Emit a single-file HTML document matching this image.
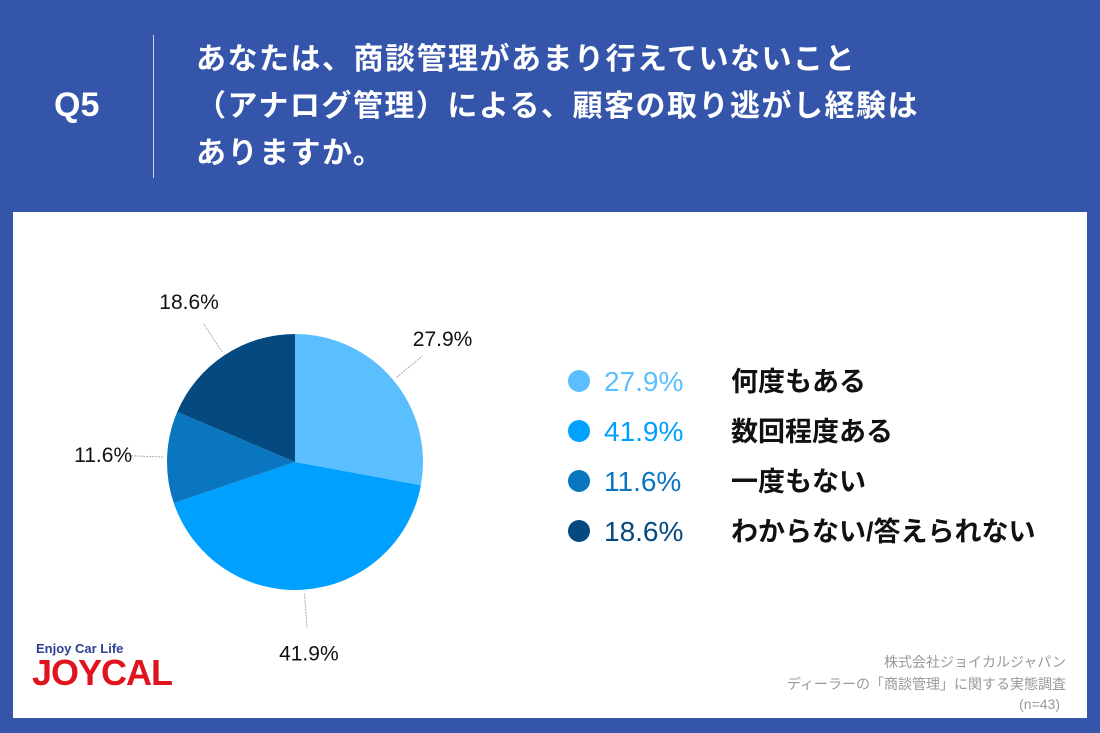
<!DOCTYPE html>
<html><head><meta charset="utf-8"><style>
body{margin:0;width:1100px;height:733px;background:#3455a9;position:relative;overflow:hidden;font-family:"Liberation Sans","Noto Sans CJK JP",sans-serif}
.abs{position:absolute}
#q{left:54px;top:86px;color:#fff;font-size:34px;font-weight:bold}
#vl{left:153px;top:35px;width:1px;height:143px;background:#c8d2ec}
#title{left:196px;top:36px;color:#fff;font-size:30px;font-weight:bold;line-height:47px;letter-spacing:1.5px}
#panel{left:13px;top:212px;width:1074px;height:506px;background:#fff}
.src{right:34px;color:#999;font-size:14px;text-align:right}
</style></head><body>
<div id="q" class="abs">Q5</div>
<div id="vl" class="abs"></div>
<div id="title" class="abs">あなたは、商談管理があまり行えていないこと<br>（アナログ管理）による、顧客の取り逃がし経験は<br>ありますか。</div>
<div id="panel" class="abs"></div>
<svg class="abs" style="left:0;top:0" width="1100" height="733" id="chart"></svg>
<div class="abs" style="left:36px;top:641px;font:bold 13px 'Liberation Sans',sans-serif;color:#2d3f91">Enjoy Car Life</div>
<div class="abs" style="left:32px;top:652px;font:900 36px 'Liberation Sans',sans-serif;color:#e0141e;letter-spacing:-1px">JOYCAL</div>
<div class="abs src" style="top:652px">株式会社ジョイカルジャパン</div>
<div class="abs src" style="top:674px">ディーラーの「商談管理」に関する実態調査</div>
<div class="abs src" style="top:696px;right:40px">(n=43)</div>
<script>
const categories=["何度もある","数回程度ある","一度もない","わからない/答えられない"];
const values=[27.9,41.9,11.6,18.6];
const labels=["27.9%","41.9%","11.6%","18.6%"];
const colors=["#5bbfff","#00a0ff","#0a76c0","#044a80"];
const NS="http://www.w3.org/2000/svg";
const svg=document.getElementById('chart');
const cx=295,cy=462,r=128;
const total=values.reduce((a,b)=>a+b,0);
function pt(a,rr){return [cx+rr*Math.sin(a),cy-rr*Math.cos(a)];}
let acc=0;
values.forEach((v,i)=>{
  const a0=acc/total*2*Math.PI;acc+=v;const a1=acc/total*2*Math.PI;
  const p0=pt(a0,r),p1=pt(a1,r);
  const path=document.createElementNS(NS,'path');
  path.setAttribute('d',`M${cx},${cy}L${p0[0]},${p0[1]}A${r},${r} 0 ${a1-a0>Math.PI?1:0} 1 ${p1[0]},${p1[1]}Z`);
  path.setAttribute('fill',colors[i]);
  
  
  svg.appendChild(path);
  const am=(a0+a1)/2;
  const l0=pt(am,r+4),l1=pt(am,r+38);
  const ln=document.createElementNS(NS,'line');
  ln.setAttribute('x1',l0[0]);ln.setAttribute('y1',l0[1]);ln.setAttribute('x2',l1[0]);ln.setAttribute('y2',l1[1]);
  ln.setAttribute('stroke','#aaa');ln.setAttribute('stroke-dasharray','2,1');
  
  
  svg.appendChild(ln);
  const lp=pt(am,r+64);
  const t=document.createElementNS(NS,'text');
  t.setAttribute('x',lp[0]);t.setAttribute('y',lp[1]+7);t.setAttribute('text-anchor','middle');
  t.setAttribute('font-size','21');t.setAttribute('fill','#111');
  t.textContent=labels[i];
  
  
  svg.appendChild(t);
  const ly=381+i*50;
  const c=document.createElementNS(NS,'circle');
  c.setAttribute('cx',579);c.setAttribute('cy',ly);c.setAttribute('r',11);c.setAttribute('fill',colors[i]);
  
  
  svg.appendChild(c);
  const tv=document.createElementNS(NS,'text');
  tv.setAttribute('x',604);tv.setAttribute('y',ly+10);tv.setAttribute('font-size','28');tv.setAttribute('fill',colors[i]);tv.setAttribute('font-weight','500');
  tv.textContent=labels[i];
  
  
  svg.appendChild(tv);
  const tc=document.createElementNS(NS,'text');
  tc.setAttribute('x',731);tc.setAttribute('y',ly+10);tc.setAttribute('font-size','27');tc.setAttribute('fill','#111');tc.setAttribute('font-weight','bold');
  tc.textContent=categories[i];
  
  
  svg.appendChild(tc);
});
</script>
</body></html>
